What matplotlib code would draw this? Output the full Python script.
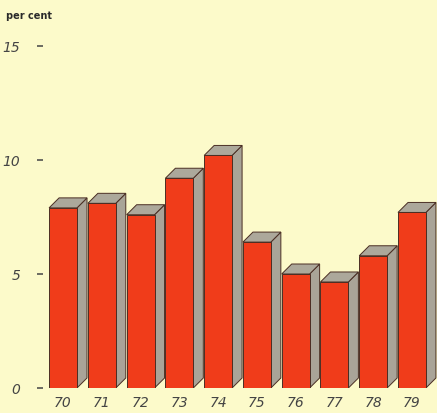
import matplotlib
matplotlib.use("Agg")
import matplotlib.pyplot as plt
from matplotlib.patches import Polygon

years = ["70", "71", "72", "73", "74", "75", "76", "77", "78", "79"]
values = [7.9, 8.1, 7.6, 9.2, 10.2, 6.4, 5.0, 4.65, 5.8, 7.7]
yticks = [0, 5, 10, 15]

bg = "#FCFACA"
front_c = "#F03C1A"
side_c = "#A9A498"
top_c = "#ACA89B"
edge_c = "#4A2E24"

W, H = 437, 413
fig = plt.figure(figsize=(W / 100, H / 100), dpi=100)
fig.patch.set_facecolor(bg)

left_px, right_px, base_px, top_px = 43, 437, 388, 28
ax = fig.add_axes([left_px / W, (H - base_px) / H, (right_px - left_px) / W, (base_px - top_px) / H])
ax.set_facecolor(bg)

px_x = 38.7
px_y = 22.8
x0 = -(63 - left_px) / px_x
x1 = 9 + (right_px - 412) / px_x
ax.set_xlim(x0, x1)
ax.set_ylim(0, (base_px - top_px) / px_y)

bw = 0.72
dx = 10 / px_x
dy = 10 / px_y

xs = list(range(len(years)))
for x, v in zip(xs, values):
    l, r = x - bw / 2, x + bw / 2
    side = Polygon([(r, 0), (r + dx, dy), (r + dx, v + dy), (r, v)], closed=True,
                   facecolor=side_c, edgecolor=edge_c, linewidth=0.7, zorder=2)
    top = Polygon([(l, v), (l + dx, v + dy), (r + dx, v + dy), (r, v)], closed=True,
                  facecolor=top_c, edgecolor=edge_c, linewidth=0.7, zorder=2)
    ax.add_patch(side)
    ax.add_patch(top)

ax.bar(xs, values, width=bw, color=front_c, edgecolor=edge_c, linewidth=0.7, zorder=3)

for s in ax.spines.values():
    s.set_visible(False)

ax.set_yticks(yticks)
ax.set_yticklabels([str(t) for t in yticks], fontsize=10, style="italic", color="#444444")
ax.tick_params(axis="y", direction="out", length=4.3, width=1.1, color="#444444", pad=12)

ax.set_xticks(xs)
ax.set_xticklabels(years, fontsize=10, style="italic", color="#444444")
ax.tick_params(axis="x", length=0, pad=6)

fig.text(6 / W, (H - 16) / H, "per cent", fontsize=7, fontweight="bold",
         color="#2a2a2a", va="center", ha="left")

fig.savefig("out.png", dpi=100, facecolor=bg)
